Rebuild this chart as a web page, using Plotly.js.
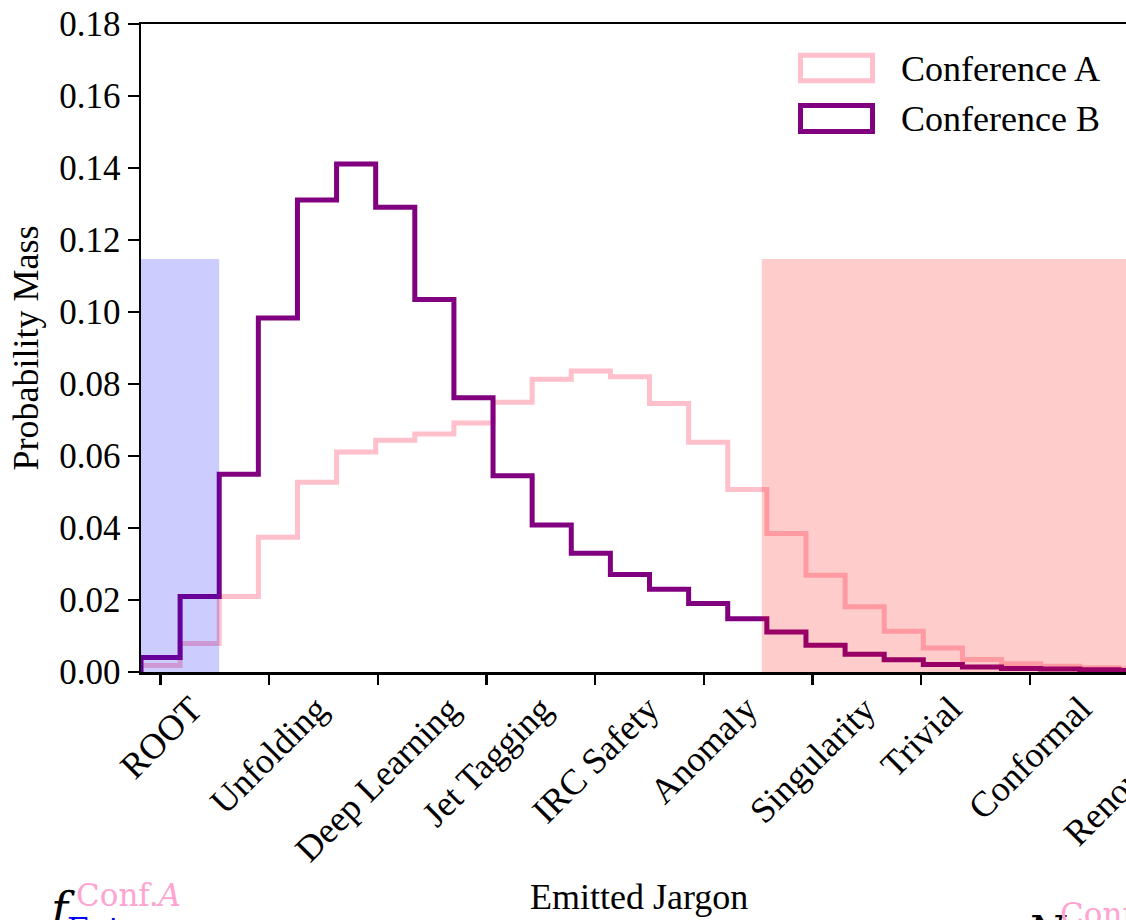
<!DOCTYPE html>
<html>
<head>
<meta charset="utf-8">
<script src="https://cdn.plot.ly/plotly-3.0.1.min.js"></script>
<style>
html, body { margin: 0; padding: 0; overflow: hidden; background: #fff; }
#chart { width: 1200px; height: 960px; }
</style>
</head>
<body>
<div id="chart"></div>
<script>
// ---- data ----
const binEdges = [0, 1, 2, 3, 4, 5, 6, 7, 8, 9, 10, 11, 12, 13, 14, 15, 16, 17, 18, 19, 20, 21, 22, 23, 24, 25, 26];
const confA = [0.0018, 0.0079, 0.0210, 0.0374, 0.0527, 0.0611, 0.0644, 0.0661, 0.0692, 0.0749, 0.0813, 0.0836, 0.0820,
               0.0746, 0.0638, 0.0507, 0.0385, 0.0269, 0.0181, 0.0113, 0.0067, 0.0035, 0.0023, 0.0016, 0.0012, 0.0008];
const confB = [0.0040, 0.0210, 0.0549, 0.0983, 0.1311, 0.1411, 0.1291, 0.1035, 0.0762, 0.0545, 0.0408, 0.0330, 0.0271,
               0.0230, 0.0190, 0.0148, 0.0111, 0.0074, 0.0049, 0.0034, 0.0021, 0.0014, 0.0010, 0.0008, 0.0006, 0.0004];
const tickPositions = [0.5, 3.278, 6.056, 8.833, 11.611, 14.389, 17.167, 19.944, 22.722, 25.5];
const tickLabels = ["ROOT", "Unfolding", "Deep Learning", "Jet Tagging", "IRC Safety", "Anomaly",
                    "Singularity", "Trivial", "Conformal", "Renormalons"];
const seriesNames = ["Conference A", "Conference B"];
const blueSpan = [0, 2];
const redSpan = [15.87, 26];
const spanTop = 0.1147;

// ---- layout helpers ----
const FONT = "Liberation Serif";
const FS = 36;
const L = 141, T = 24, PW = 1017, PH = 648, FW = 1200, FH = 960;
const px = v => (v - L) / PW;
const py = v => 1 - (v - T) / PH;

function stepXY(edges, vals) {
  const x = [edges[0]], y = [0];
  for (let i = 0; i < vals.length; i++) { x.push(edges[i]); y.push(vals[i]); }
  x.push(edges[edges.length - 1]); y.push(vals[vals.length - 1]);
  x.push(edges[edges.length - 1]); y.push(0);
  return {x, y};
}

const colA = "#ffc0cb", colB = "#800080";
const sA = stepXY(binEdges, confA), sB = stepXY(binEdges, confB);

const traces = [
  {type: "scatter", mode: "lines", x: sA.x, y: sA.y, name: seriesNames[0],
   line: {shape: "hv", color: colA, width: 5}, hoverinfo: "skip"},
  {type: "scatter", mode: "lines", x: sB.x, y: sB.y, name: seriesNames[1],
   line: {shape: "hv", color: colB, width: 5}, hoverinfo: "skip"}
];

const shapes = [
  {type: "rect", layer: "above", xref: "x", yref: "y", x0: blueSpan[0], x1: blueSpan[1], y0: 0, y1: spanTop,
   fillcolor: "rgba(0,0,255,0.2)", line: {width: 0}},
  {type: "rect", layer: "above", xref: "x", yref: "y", x0: redSpan[0], x1: redSpan[1], y0: 0, y1: spanTop,
   fillcolor: "rgba(255,0,0,0.2)", line: {width: 0}},
  // legend patches
  {type: "rect", xref: "paper", yref: "paper", x0: px(800.5), x1: px(872.5), y0: py(55.2), y1: py(80.8),
   fillcolor: "rgba(0,0,0,0)", line: {color: colA, width: 5}},
  {type: "rect", xref: "paper", yref: "paper", x0: px(800.5), x1: px(872.5), y0: py(105.5), y1: py(131.5),
   fillcolor: "rgba(0,0,0,0)", line: {color: colB, width: 5}}
];

const annotations = [];
tickLabels.forEach((t, i) => {
  annotations.push({text: t, xref: "x", yref: "paper", x: tickPositions[i], y: 0, yshift: -14,
    xanchor: "center", yanchor: "top", textangle: -45, showarrow: false,
    font: {family: FONT, size: FS, color: "#000"}});
});
annotations.push(
  {text: seriesNames[0], xref: "paper", yref: "paper", x: px(899), y: py(69), xanchor: "left", yanchor: "middle",
   showarrow: false, font: {family: FONT, size: FS, color: "#000"}},
  {text: seriesNames[1], xref: "paper", yref: "paper", x: px(899), y: py(119), xanchor: "left", yanchor: "middle",
   showarrow: false, font: {family: FONT, size: FS, color: "#000"}},
  {text: "Emitted Jargon", xref: "paper", yref: "paper", x: px(639), y: py(897), xanchor: "center", yanchor: "middle",
   showarrow: false, font: {family: FONT, size: FS, color: "#000"}},
  // fragments of text below the chart (cut off by the frame, as in the source)
  {text: "<i>f</i>", xref: "paper", yref: "paper", x: px(46), y: py(880), xanchor: "left", yanchor: "top",
   showarrow: false, font: {family: "DejaVu Serif", size: 46, color: "#000"}},
  {text: "Conf.<i>A</i>", xref: "paper", yref: "paper", x: px(74), y: py(875), xanchor: "left", yanchor: "top",
   showarrow: false, font: {family: "DejaVu Serif", size: 31, color: "#ffa3d1"}},
  {text: "Fnt", xref: "paper", yref: "paper", x: px(65), y: py(909), xanchor: "left", yanchor: "top",
   showarrow: false, font: {family: "DejaVu Serif", size: 31, color: "#0000ff"}},
  {text: "<i>N</i>", xref: "paper", yref: "paper", x: px(1024), y: py(905), xanchor: "left", yanchor: "top",
   showarrow: false, font: {family: "DejaVu Serif", size: 44, color: "#000"}},
  {text: "Conf.<i>B</i>", xref: "paper", yref: "paper", x: px(1058), y: py(894), xanchor: "left", yanchor: "top",
   showarrow: false, font: {family: "DejaVu Serif", size: 31, color: "#ffa3d1"}}
);

const layout = {
  width: FW, height: FH,
  margin: {l: L, r: FW - L - PW, t: T, b: FH - T - PH, pad: 0},
  paper_bgcolor: "#fff", plot_bgcolor: "#fff",
  showlegend: false,
  font: {family: FONT, size: FS, color: "#000"},
  xaxis: {range: [binEdges[0], binEdges[binEdges.length - 1]], tickvals: tickPositions, showticklabels: false,
          ticks: "outside", ticklen: 10, tickwidth: 2.5, tickcolor: "#000",
          showline: true, linecolor: "#000", linewidth: 2.5, mirror: true,
          showgrid: false, zeroline: false, fixedrange: true},
  yaxis: {range: [0, 0.18], dtick: 0.02, tick0: 0, tickformat: ".2f",
          ticks: "outside", ticklen: 11, tickwidth: 2.5, tickcolor: "#000",
          showline: true, linecolor: "#000", linewidth: 2.5, mirror: true,
          showgrid: false, zeroline: false, fixedrange: true,
          tickfont: {family: FONT, size: 35, color: "#000"},
          title: {text: "Probability Mass", font: {family: FONT, size: FS, color: "#000"}, standoff: 10}},
  shapes: shapes,
  annotations: annotations
};

Plotly.newPlot("chart", traces, layout, {staticPlot: true, displayModeBar: false});
</script>
</body>
</html>
